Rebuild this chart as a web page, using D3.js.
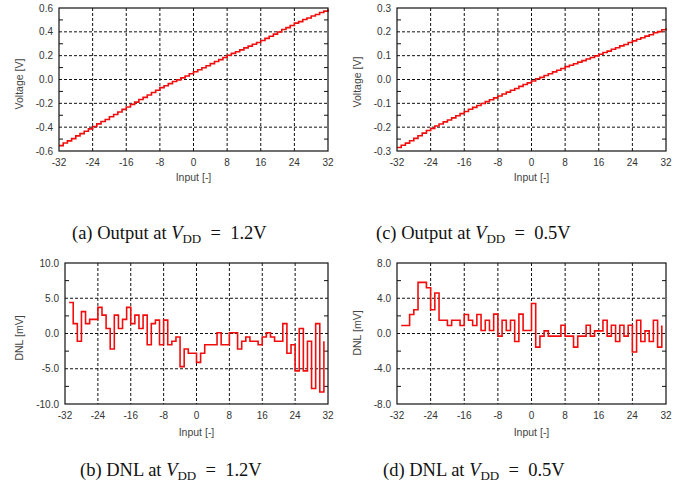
<!DOCTYPE html>
<html lang="en">
<head>
<meta charset="UTF-8">
<title>Output and DNL</title>
<script src="https://cdn.jsdelivr.net/npm/d3@7"></script>
<style>
  body { margin: 0; background: #fff; }
  .tick-lbl { font-family: "Liberation Sans", Arial, sans-serif; font-size: 10px; fill: #333; }
  .ax-title { font-family: "Liberation Sans", Arial, sans-serif; font-size: 10.5px; fill: #444; }
  .caption { font-family: "Liberation Serif", "Times New Roman", serif; font-size: 18.5px; fill: #111; }
</style>
</head>
<body>
<svg id="chart" xmlns="http://www.w3.org/2000/svg" width="691" height="495"></svg>
<script>
// input codes shown on the x axis
const xTicks = [-32, -24, -16, -8, 0, 8, 16, 24, 32];

// y tick labels of each panel
const yTicksOut12 = [-0.6, -0.4, -0.2, 0.0, 0.2, 0.4, 0.6];
const yTicksOut05 = [-0.3, -0.2, -0.1, 0.0, 0.1, 0.2, 0.3];
const yTicksDnl12 = [-10, -5, 0, 5, 10];
const yTicksDnl05 = [-8, -4, 0, 4, 8];

// output voltage [V] for codes -32 .. 32 (1.2V supply)
const out12 = [
  -0.555, -0.533, -0.515, -0.496, -0.473, -0.454, -0.434, -0.414, -0.394,
  -0.372, -0.353, -0.336, -0.313, -0.294, -0.273, -0.251, -0.231,
  -0.209, -0.190, -0.168, -0.150, -0.130, -0.109, -0.090, -0.068,
  -0.052, -0.035, -0.017, -0.003, 0.014, 0.030, 0.048, 0.065,
  0.082, 0.099, 0.116, 0.133, 0.151, 0.167, 0.184, 0.203,
  0.219, 0.233, 0.249, 0.265, 0.280, 0.296, 0.311, 0.327,
  0.345, 0.363, 0.381, 0.399, 0.419, 0.435, 0.453, 0.473,
  0.486, 0.503, 0.516, 0.533, 0.545, 0.562, 0.574, 0.590
];

// output voltage [V] for codes -32 .. 32 (0.5V supply)
const out05 = [
  -0.285, -0.276, -0.267, -0.257, -0.247, -0.236, -0.225, -0.214, -0.205,
  -0.195, -0.187, -0.178, -0.170, -0.161, -0.152, -0.143, -0.134,
  -0.125, -0.117, -0.109, -0.101, -0.093, -0.085, -0.077, -0.069,
  -0.061, -0.053, -0.045, -0.038, -0.029, -0.021, -0.014, -0.006,
  0.003, 0.009, 0.017, 0.024, 0.032, 0.039, 0.046, 0.054,
  0.060, 0.066, 0.073, 0.079, 0.086, 0.092, 0.099, 0.106,
  0.113, 0.119, 0.127, 0.133, 0.141, 0.147, 0.155, 0.162,
  0.169, 0.175, 0.182, 0.188, 0.196, 0.201, 0.209, 0.215
];

// DNL [mV] for codes -31 .. 31 (1.2V supply)
const dnl12 = [
  4.4, 1.4, -1.1, 3.1, 1.4, 2.0, 2.0, 3.7, 2.6, 0.7,
  -2.2, 2.6, 0.7, 2.0, 3.7, 1.4, 2.6, 0.7, 2.6, -1.6,
  1.4, 1.9, -1.6, 1.9, -1.6, -1.1, -0.5, -4.7, -2.2, -2.8, -2.8,
  -4.1, -2.8, -1.6, -1.6, -1.6, 0.1, -1.6, -1.6, 0.1, 0.1,
  -2.2, -1.1, -0.5, -1.1, -1.1, -1.6, -0.5, 0.1, -0.5, -1.1,
  -1.1, 1.4, -2.8, -1.6, -5.3, 0.7, -5.3, -1.1, -7.8, 1.4,
  -8.3, -1.1
];

// DNL [mV] for codes -31 .. 31 (0.5V supply)
const dnl05 = [
  0.9, 0.9, 2.15, 2.7, 5.8, 5.8, 5.2, 2.7, 4.6, 1.5,
  1.5, 0.9, 1.5, 1.5, 0.9, 2.15, 1.5, 0.9, 2.15, 0.34,
  1.5, 0.34, 2.2, -0.3, 1.5, 0.34, 1.5, -0.9, 2.2, 0.34, 0.34,
  3.4, -1.55, -0.3, 0.3, -0.3, -0.3, -0.3, 0.94, -0.3, -0.3,
  -1.55, -0.3, -0.3, 0.94, -0.3, 0.3, 0.3, 1.5, -0.3, 0.94,
  -0.9, 0.94, -0.3, 0.94, -2.1, 1.5, -0.9, 0.3, -0.9, 1.5,
  -1.55, 0.9
];

const svg = d3.select("#chart");

function drawPanel(p) {
  const x = d3.scaleLinear().domain([-32, 32]).range([p.left, p.right]);
  const y = d3.scaleLinear().domain(d3.extent(p.yTicks)).range([p.bottom, p.top]);
  const g = svg.append("g");

  // dashed grid
  g.selectAll("line.gx").data(xTicks.slice(1, -1)).join("line")
    .attr("x1", d => x(d)).attr("x2", d => x(d))
    .attr("y1", p.top).attr("y2", p.bottom)
    .attr("stroke", "#111").attr("stroke-width", 1).attr("stroke-dasharray", "3,2");
  g.selectAll("line.gy").data(p.yTicks.slice(1, -1)).join("line")
    .attr("x1", p.left).attr("x2", p.right)
    .attr("y1", d => y(d)).attr("y2", d => y(d))
    .attr("stroke", "#111").attr("stroke-width", 1).attr("stroke-dasharray", "3,2");

  // minor ticks on the y axis, both sides
  const minor = d3.pairs(p.yTicks).map(([a, b]) => (a + b) / 2);
  [[p.left, 4], [p.right, -4]].forEach(([x0, len]) => {
    g.selectAll(null).data(minor).join("line")
      .attr("x1", x0).attr("x2", x0 + len)
      .attr("y1", d => y(d)).attr("y2", d => y(d))
      .attr("stroke", "#111");
  });

  // data
  const xs = p.data.map((v, i) => p.firstCode + i);
  const line = d3.line().curve(d3.curveStepAfter)
    .x((d, i) => x(xs[i])).y(d => y(d));
  g.append("path").datum(p.data)
    .attr("d", line)
    .attr("fill", "none").attr("stroke", "#f20d0d")
    .attr("stroke-width", 1.6).attr("stroke-linejoin", "miter");

  // frame
  g.append("rect")
    .attr("x", p.left).attr("y", p.top)
    .attr("width", p.right - p.left).attr("height", p.bottom - p.top)
    .attr("fill", "none").attr("stroke", "#111").attr("stroke-width", 1.2);

  // tick labels
  g.selectAll("text.yl").data(p.yTicks).join("text")
    .attr("class", "tick-lbl")
    .attr("x", p.left - 6).attr("y", d => y(d) + 3.5)
    .attr("text-anchor", "end")
    .text(d => d.toFixed(1));
  g.selectAll("text.xl").data(xTicks).join("text")
    .attr("class", "tick-lbl")
    .attr("x", d => x(d)).attr("y", p.bottom + 15)
    .attr("text-anchor", "middle")
    .text(d => d);

  // axis titles
  g.append("text").attr("class", "ax-title")
    .attr("x", (p.left + p.right) / 2).attr("y", p.xTitleY)
    .attr("text-anchor", "middle").text("Input [-]");
  g.append("text").attr("class", "ax-title")
    .attr("transform", `translate(${p.yTitleX},${p.yTitleMid}) rotate(-90)`)
    .attr("text-anchor", "middle").attr("dy", "0.35em")
    .text(p.yTitle);

  // caption with V_DD
  const cap = g.append("text").attr("class", "caption")
    .attr("x", p.capX).attr("y", p.capY);
  cap.append("tspan").text(p.capPre);
  cap.append("tspan").attr("font-style", "italic").text("V");
  cap.append("tspan").attr("font-size", "13px").attr("dy", 3.5).text("DD");
  cap.append("tspan").attr("dy", -3.5).text("\u2002=\u2002" + p.capVal);
}

const panels = [
  { left: 59, right: 328, top: 8, bottom: 151, yTicks: yTicksOut12, data: out12, firstCode: -32,
    yTitle: "Voltage [V]", yTitleX: 19, yTitleMid: 84, xTitleY: 181,
    capPre: "(a) Output at ", capVal: "1.2V", capX: 72, capY: 239 },
  { left: 397, right: 666, top: 8, bottom: 151, yTicks: yTicksOut05, data: out05, firstCode: -32,
    yTitle: "Voltage [V]", yTitleX: 357, yTitleMid: 82, xTitleY: 181,
    capPre: "(c) Output at ", capVal: "0.5V", capX: 376, capY: 239 },
  { left: 65, right: 328, top: 263, bottom: 404, yTicks: yTicksDnl12, data: dnl12, firstCode: -31,
    yTitle: "DNL [mV]", yTitleX: 19, yTitleMid: 338, xTitleY: 436,
    capPre: "(b) DNL at ", capVal: "1.2V", capX: 80, capY: 476 },
  { left: 397, right: 666, top: 263, bottom: 404, yTicks: yTicksDnl05, data: dnl05, firstCode: -31,
    yTitle: "DNL [mV]", yTitleX: 357, yTitleMid: 333, xTitleY: 436,
    capPre: "(d) DNL at ", capVal: "0.5V", capX: 383, capY: 476 }
];

panels.forEach(drawPanel);
</script>
</body>
</html>
